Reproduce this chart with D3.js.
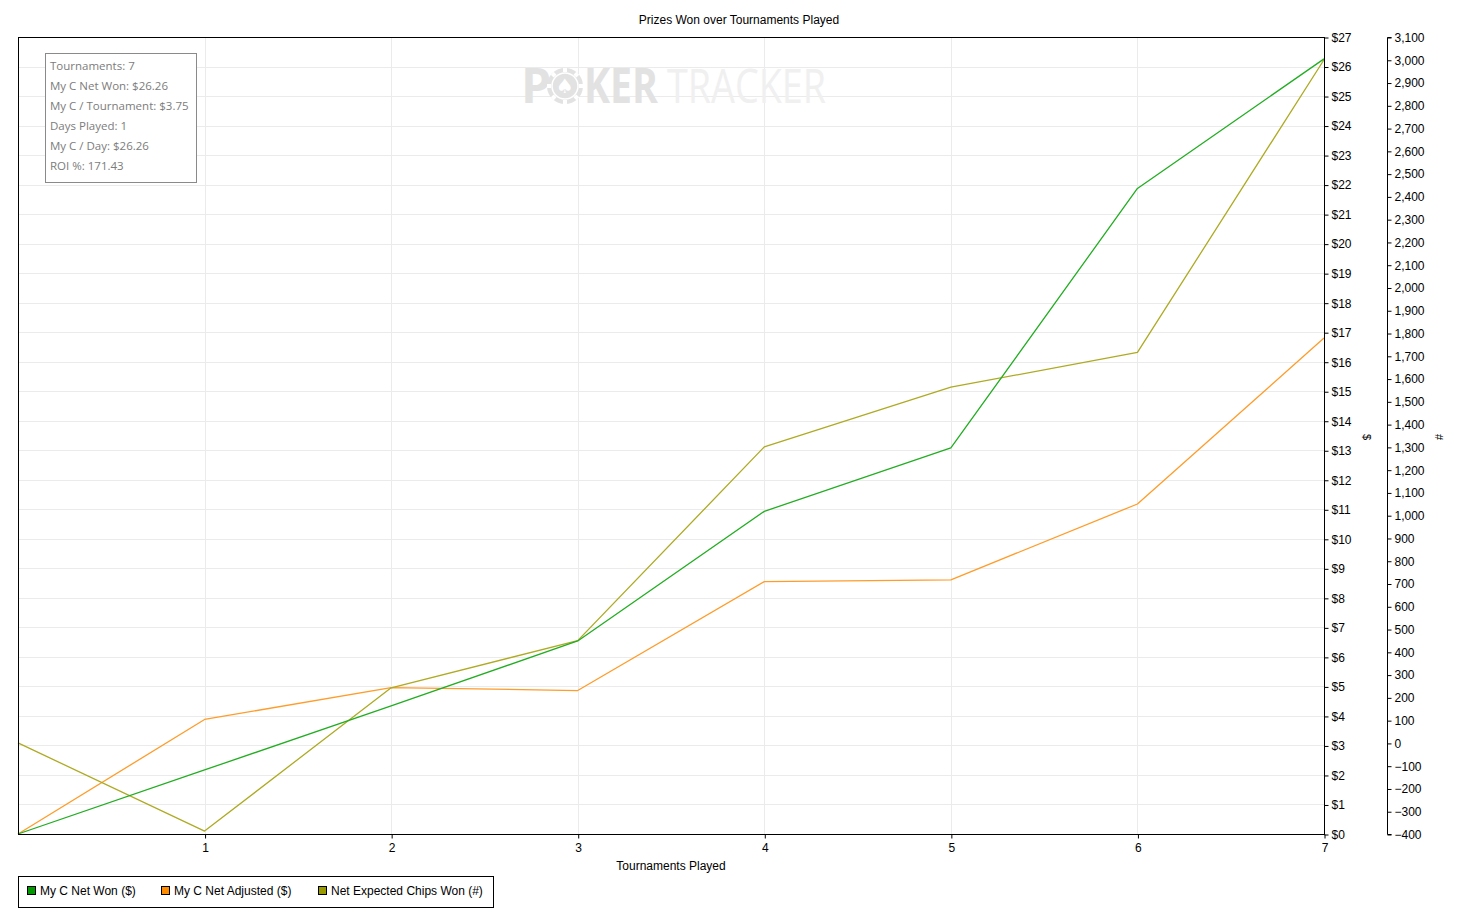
<!DOCTYPE html>
<html>
<head>
<meta charset="utf-8">
<script src="https://cdn.jsdelivr.net/npm/d3@7"></script>
<style>
  html, body { margin: 0; padding: 0; background: #fff; }
  svg { display: block; font-family: "Liberation Sans", Arial, sans-serif; }
</style>
</head>
<body>
<svg id="chart" width="1459" height="913"></svg>
<script>
// ---- Data ----
const tournaments = [0, 1, 2, 3, 4, 5, 6, 7];
const xTickLabels = [1, 2, 3, 4, 5, 6, 7];
const netWon = [0, 2.17, 4.34, 6.54, 10.93, 13.08, 21.87, 26.26];
const netAdjusted = [0, 3.88, 4.96, 4.86, 8.55, 8.61, 11.18, 16.80];
const expectedChips = [0, -387, 242, 449, 1300, 1562, 1715, 3000];
const dollarTicks = d3.range(0, 28, 1);
const chipTicks = d3.range(-400, 3101, 100);
const seriesNames = ["My C Net Won ($)", "My C Net Adjusted ($)", "Net Expected Chips Won (#)"];
const infoLines = ["Tournaments: 7", "My C Net Won: $26.26", "My C / Tournament: $3.75",
                   "Days Played: 1", "My C / Day: $26.26", "ROI %: 171.43"];
const chartTitle = "Prizes Won over Tournaments Played";
const xTitle = "Tournaments Played";

// ---- Layout ----
const L = 18, R = 1324, T = 37, B = 834;
const chipAxisX = 1387;
const svg = d3.select("#chart");
const baseFont = "'Liberation Sans', Arial, sans-serif";

const x = d3.scaleLinear().domain([0, 7]).range([L, R]);
const yD = d3.scaleLinear().domain([0, 27]).range([B, T]);
const yC = d3.scaleLinear().domain([-400, 3100]).range([B, T]);

// gridlines
const grid = svg.append("g");
grid.selectAll("line.h").data(dollarTicks.filter(d => d > 0 && d < 27)).join("line")
  .attr("x1", L).attr("x2", R)
  .attr("y1", d => Math.round(yD(d)) + 0.5).attr("y2", d => Math.round(yD(d)) + 0.5)
  .attr("stroke", "#ebebeb").attr("stroke-width", 1);
grid.selectAll("line.v").data(xTickLabels.filter(d => d < 7)).join("line")
  .attr("y1", T).attr("y2", B)
  .attr("x1", d => Math.round(x(d)) + 0.5).attr("x2", d => Math.round(x(d)) + 0.5)
  .attr("stroke", "#ebebeb").attr("stroke-width", 1);

// watermark
const wmFont = "'Open Sans', 'Noto Sans', sans-serif";
const wm = svg.append("g");
wm.append("text").attr("x", 521).attr("y", 103).style("font-family", wmFont).style("font-size", "48px")
  .style("font-weight", 700).attr("fill", "#e2e2e2").text("P");
const chipCx = 565, chipCy = 86, chipR = 18;
wm.append("circle").attr("cx", chipCx).attr("cy", chipCy).attr("r", chipR).attr("fill", "#e2e2e2");
wm.append("circle").attr("cx", chipCx).attr("cy", chipCy).attr("r", chipR - 5).attr("fill", "none")
  .attr("stroke", "#fff").attr("stroke-width", 1.5);
for (let i = 0; i < 8; i++) {
  wm.append("rect").attr("x", chipCx - 2).attr("y", chipCy - chipR).attr("width", 4).attr("height", 4)
    .attr("fill", "#fff").attr("transform", `rotate(${i * 45},${chipCx},${chipCy})`);
}
wm.append("text").attr("x", chipCx).attr("y", chipCy + 7).attr("text-anchor", "middle")
  .style("font-family", "'DejaVu Sans', sans-serif").style("font-size", "20px").attr("fill", "#fff").text("♠");
wm.append("text").attr("x", 584).attr("y", 103).style("font-family", wmFont).style("font-size", "48px")
  .style("font-weight", 700).attr("textLength", 74).attr("lengthAdjust", "spacingAndGlyphs")
  .attr("fill", "#e2e2e2").text("KER");
wm.append("text").attr("x", 667).attr("y", 103).style("font-family", wmFont).style("font-size", "48px")
  .style("font-weight", 400).attr("textLength", 159).attr("lengthAdjust", "spacingAndGlyphs")
  .attr("fill", "#f0f0f0").text("TRACKER");

// lines
function drawLine(vals, yScale, color) {
  const line = d3.line().x((d, i) => x(tournaments[i])).y(d => yScale(d));
  svg.append("path").datum(vals).attr("d", line).attr("fill", "none")
    .attr("stroke", color).attr("stroke-width", 1.3).attr("stroke-linejoin", "round");
}
drawLine(netAdjusted, yD, "#ff9c2a");
drawLine(expectedChips, yC, "#aeaa22");
drawLine(netWon, yD, "#22ad22");

// plot border
svg.append("rect").attr("x", L + 0.5).attr("y", T + 0.5).attr("width", R - L).attr("height", B - T)
  .attr("fill", "none").attr("stroke", "#000").attr("stroke-width", 1);

// x axis
const xAxis = d3.axisBottom(x).tickValues(xTickLabels).tickSize(4).tickFormat(d3.format("d"));
const gx = svg.append("g").attr("transform", `translate(0.5,${B + 0.5})`).call(xAxis);
gx.select(".domain").remove();
gx.selectAll("text").style("font-size", "12px").style("font-family", baseFont).attr("dy", "0.85em").attr("y", 7);

// $ axis
const dAxis = d3.axisRight(yD).tickValues(dollarTicks).tickSize(4).tickFormat(d => "$" + d);
const gd = svg.append("g").attr("transform", `translate(${R + 0.5},0.5)`).call(dAxis);
gd.select(".domain").attr("d", `M0,${T}V${B}`);
gd.selectAll("text").style("font-size", "12px").style("font-family", baseFont).attr("x", 7);

// chips axis
const cAxis = d3.axisRight(yC).tickValues(chipTicks).tickSize(4).tickFormat(d3.format(","));
const gc = svg.append("g").attr("transform", `translate(${chipAxisX + 0.5},0.5)`).call(cAxis);
gc.select(".domain").attr("d", `M4,${T}H0V${B}H4`);
gc.selectAll("text").style("font-size", "12px").style("font-family", baseFont).attr("x", 7);

// axis titles
svg.append("text").attr("transform", `translate(1363,437) rotate(90)`).attr("text-anchor", "middle")
  .style("font-size", "11px").text("$");
svg.append("text").attr("transform", `translate(1435,437) rotate(90)`).attr("text-anchor", "middle")
  .style("font-size", "11px").text("#");
svg.append("text").attr("x", (L + R) / 2).attr("y", 870).attr("text-anchor", "middle")
  .style("font-size", "12px").text(xTitle);
svg.append("text").attr("x", 739).attr("y", 24).attr("text-anchor", "middle")
  .style("font-size", "12px").text(chartTitle);

// info box
svg.append("rect").attr("x", 45.5).attr("y", 53.5).attr("width", 151).attr("height", 129)
  .attr("fill", "#fff").attr("stroke", "#8a8a8a").attr("stroke-width", 1);
svg.append("g").selectAll("text").data(infoLines).join("text")
  .attr("x", 50).attr("y", (d, i) => 70 + i * 20)
  .style("font-family", "'Open Sans', 'Noto Sans', sans-serif").style("font-size", "11.5px")
  .attr("fill", "#7c7c7c").text(d => d);

// legend
const legendColors = ["#009900", "#ff8c00", "#999900"];
const legendX = [27, 161, 318];
svg.append("rect").attr("x", 18.5).attr("y", 876.5).attr("width", 475).attr("height", 31)
  .attr("fill", "#fff").attr("stroke", "#000").attr("stroke-width", 1);
const lg = svg.append("g").selectAll("g").data(seriesNames).join("g")
  .attr("transform", (d, i) => `translate(${legendX[i]},0)`);
lg.append("rect").attr("x", 0.5).attr("y", 886.5).attr("width", 8).attr("height", 8)
  .attr("fill", (d, i) => legendColors[i]).attr("stroke", "#000").attr("stroke-width", 1);
lg.append("text").attr("x", 13).attr("y", 895).style("font-size", "12px").text(d => d);
</script>
</body>
</html>
